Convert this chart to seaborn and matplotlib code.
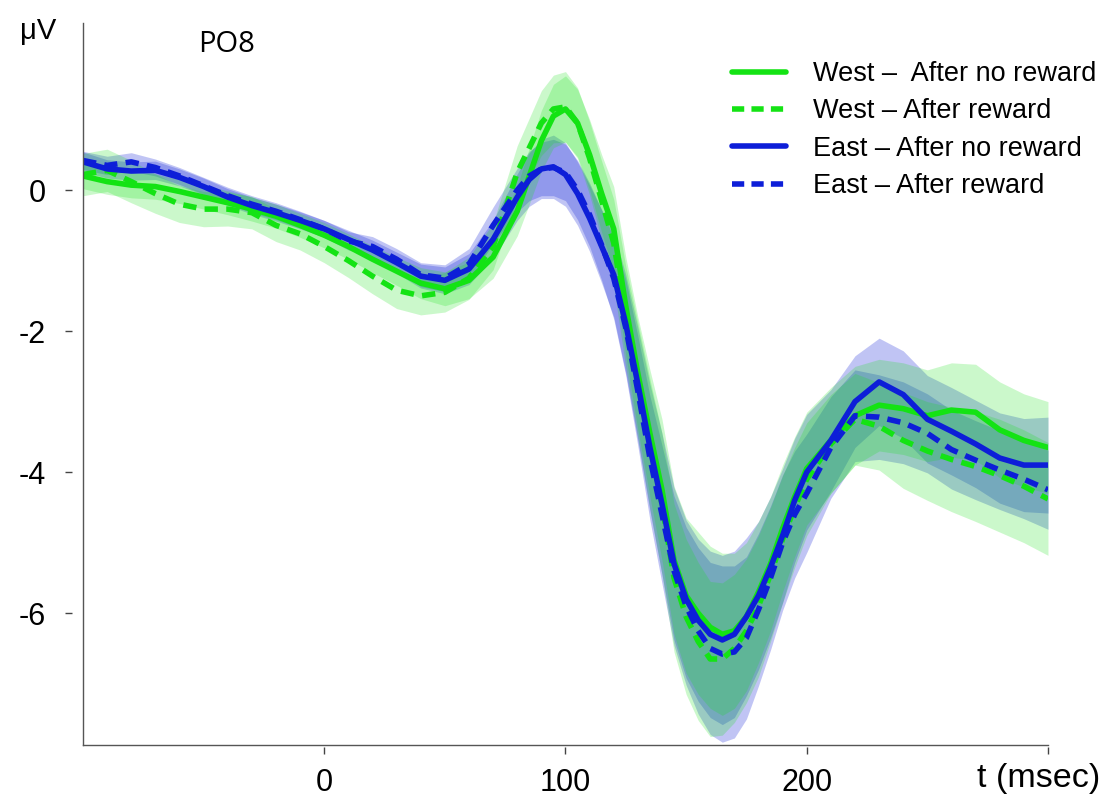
import numpy as np
import pandas as pd
import matplotlib.pyplot as plt
import seaborn as sns
from matplotlib.lines import Line2D

# time axis (ms): 10 ms steps, 5 ms steps through the P1/N1 complex
t_ms = [-100, -90, -80, -70, -60, -50, -40, -30, -20, -10,
        0, 10, 20, 30, 40, 50, 60, 70, 80,
        85, 90, 95, 100, 105, 110, 115, 120, 125, 130, 135, 140, 145, 150,
        155, 160, 165, 170, 175, 180, 185, 190, 195, 200,
        210, 220, 230, 240, 250, 260, 270, 280, 290, 300]

labels = ["West \u2013  After no reward", "West \u2013 After reward",
          "East \u2013 After no reward", "East \u2013 After reward"]

west_no = [0.20, 0.12, 0.07, 0.05, -0.02, -0.10, -0.18, -0.27, -0.37, -0.50,
           -0.64, -0.80, -0.98, -1.15, -1.32, -1.40, -1.28, -0.95, -0.30,
           0.20, 0.70, 1.05, 1.15, 0.95, 0.50, -0.05, -0.55, -1.65, -2.60, -3.45, -4.25, -5.25, -5.75,
           -6.00, -6.20, -6.30, -6.25, -6.05, -5.70, -5.30, -4.80, -4.35, -3.95,
           -3.55, -3.20, -3.05, -3.10, -3.20, -3.12, -3.15, -3.40, -3.55, -3.65]

west_rew = [0.22, 0.28, 0.12, -0.05, -0.20, -0.27, -0.27, -0.32, -0.50, -0.62,
            -0.80, -1.00, -1.22, -1.42, -1.50, -1.45, -1.25, -0.80, 0.25,
            0.60, 0.95, 1.15, 1.18, 0.95, 0.45, -0.15, -0.75, -1.80, -2.70, -3.60, -4.45, -5.50, -6.05,
            -6.40, -6.65, -6.65, -6.50, -6.25, -5.90, -5.45, -4.95, -4.50, -4.10,
            -3.60, -3.25, -3.35, -3.55, -3.70, -3.82, -3.92, -4.05, -4.20, -4.38]

east_no = [0.40, 0.30, 0.27, 0.28, 0.18, 0.05, -0.10, -0.22, -0.32, -0.43,
           -0.55, -0.70, -0.85, -1.03, -1.22, -1.28, -1.12, -0.70, -0.10,
           0.15, 0.30, 0.33, 0.22, -0.05, -0.40, -0.80, -1.20, -1.90, -2.75, -3.65, -4.45, -5.30, -5.80,
           -6.10, -6.30, -6.38, -6.30, -6.05, -5.75, -5.35, -4.90, -4.40, -4.00,
           -3.55, -3.00, -2.72, -2.90, -3.25, -3.42, -3.60, -3.80, -3.90, -3.90]

east_rew = [0.42, 0.35, 0.40, 0.32, 0.20, 0.06, -0.08, -0.20, -0.30, -0.42,
            -0.55, -0.72, -0.80, -0.98, -1.20, -1.25, -1.05, -0.50, 0.00,
            0.20, 0.30, 0.32, 0.25, 0.00, -0.35, -0.78, -1.25, -1.95, -2.85, -3.80, -4.60, -5.40, -5.90,
            -6.25, -6.50, -6.58, -6.55, -6.35, -5.95, -5.50, -5.00, -4.60, -4.30,
            -3.65, -3.20, -3.22, -3.30, -3.45, -3.68, -3.83, -3.97, -4.10, -4.25]

# standard error bands
sem_west_no = [0.18, 0.18, 0.18, 0.18, 0.17, 0.17, 0.17, 0.17, 0.17, 0.17,
               0.18, 0.18, 0.19, 0.20, 0.22, 0.24, 0.26, 0.30, 0.35,
               0.40, 0.43, 0.45, 0.47, 0.48, 0.50, 0.55, 0.60, 0.70, 0.80, 0.90, 1.00, 1.05, 1.10,
               1.15, 1.15, 1.15, 1.10, 1.05, 1.00, 0.95, 0.90, 0.85, 0.80,
               0.75, 0.70, 0.65, 0.65, 0.65, 0.67, 0.68, 0.68, 0.66, 0.65]

sem_west_rew = [0.30, 0.30, 0.30, 0.28, 0.26, 0.25, 0.24, 0.23, 0.23, 0.23,
                0.23, 0.24, 0.25, 0.26, 0.27, 0.28, 0.30, 0.33, 0.38,
                0.42, 0.46, 0.48, 0.50, 0.50, 0.52, 0.56, 0.62, 0.72, 0.82, 0.92, 1.00, 1.05, 1.10,
                1.12, 1.10, 1.08, 1.05, 1.02, 1.00, 0.95, 0.90, 0.85, 0.80,
                0.70, 0.65, 0.62, 0.68, 0.70, 0.74, 0.78, 0.80, 0.80, 0.80]

sem_east_no = [0.14, 0.13, 0.13, 0.13, 0.12, 0.12, 0.12, 0.12, 0.12, 0.12,
               0.12, 0.13, 0.14, 0.15, 0.17, 0.19, 0.22, 0.27, 0.33,
               0.38, 0.42, 0.45, 0.45, 0.45, 0.47, 0.52, 0.60, 0.70, 0.80, 0.90, 1.00, 1.08, 1.12,
               1.15, 1.18, 1.20, 1.18, 1.12, 1.05, 1.00, 0.95, 0.88, 0.82,
               0.72, 0.65, 0.62, 0.62, 0.62, 0.62, 0.62, 0.64, 0.66, 0.68]

sem_east_rew = [0.13, 0.13, 0.13, 0.12, 0.12, 0.12, 0.12, 0.12, 0.12, 0.12,
                0.12, 0.13, 0.14, 0.15, 0.17, 0.19, 0.22, 0.26, 0.31,
                0.35, 0.38, 0.40, 0.40, 0.42, 0.45, 0.50, 0.58, 0.68, 0.78, 0.88, 0.98, 1.06, 1.12,
                1.18, 1.22, 1.25, 1.22, 1.15, 1.08, 1.02, 0.96, 0.90, 0.84,
                0.72, 0.65, 0.60, 0.58, 0.56, 0.56, 0.56, 0.56, 0.56, 0.56]

GREEN = "#14e314"
BLUE = "#0d1ed8"

sns.set_style("white")
plt.rcParams["font.family"] = ["Liberation Sans", "DejaVu Sans"]
plt.rcParams["text.color"] = "black"
plt.rcParams["xtick.color"] = "black"
plt.rcParams["ytick.color"] = "black"

means = [west_no, west_rew, east_no, east_rew]
sems = [sem_west_no, sem_west_rew, sem_east_no, sem_east_rew]
colors = [GREEN, GREEN, BLUE, BLUE]
band_alpha = [0.22, 0.22, 0.26, 0.26]

df = pd.concat(
    [pd.DataFrame({"t": t_ms, "uv": m, "cond": lab}) for m, lab in zip(means, labels)],
    ignore_index=True,
)

fig = plt.figure(figsize=(11.05, 7.97), dpi=100)
ax = fig.add_axes([0.0751, 0.0652, 0.8733, 0.906])

# shaded error bands: blue first, green over it gives the teal overlap
t_arr = np.array(t_ms)
for i in [2, 3, 0, 1]:
    m, s = np.array(means[i]), np.array(sems[i])
    ax.fill_between(t_arr, m - s, m + s, color=colors[i], alpha=band_alpha[i], linewidth=0)

palette = dict(zip(labels, colors))
dashes = {labels[0]: "", labels[1]: (2.4, 1.5), labels[2]: "", labels[3]: (2.4, 1.5)}
sns.lineplot(data=df, x="t", y="uv", hue="cond", style="cond", hue_order=labels,
             style_order=labels, palette=palette, dashes=dashes, linewidth=4.0,
             errorbar=None, ax=ax)

ax.set_xlim(-100, 300)
ax.set_ylim(-7.87, 2.37)
ax.set_xlabel("")
ax.set_ylabel("")
ax.tick_params(left=False, bottom=False, labelleft=False, labelbottom=False)
for side in ["top", "right"]:
    ax.spines[side].set_visible(False)
for side in ["left", "bottom"]:
    ax.spines[side].set_color("#555555")
    ax.spines[side].set_linewidth(1.0)

# detached tick marks like the original figure
secy = ax.secondary_yaxis(-0.0114)
secy.set_yticks([0, -2, -4, -6], labels=["0", "-2", "-4", "-6"])
secy.spines["left"].set_visible(False)
secy.tick_params(length=5, width=1, color="#444444", pad=14, labelsize=22)

secx = ax.secondary_xaxis(-0.003)
secx.set_xticks([0, 100, 200, 300], labels=["0", "100", "200", ""])
secx.spines["bottom"].set_visible(False)
secx.tick_params(length=5, width=1, color="#444444", pad=10, labelsize=22)

# legend
handles = [Line2D([], [], color=c, linewidth=4.0,
                  linestyle="-" if i % 2 == 0 else (0, (2.2, 1.3)))
           for i, c in enumerate(colors)]
ax.legend(handles, labels, loc="upper left", bbox_to_anchor=(732 / 1105, 1 - 61 / 797),
          bbox_transform=fig.transFigure, frameon=False, fontsize=19.5,
          handlelength=2.0, handletextpad=1.0, labelspacing=0.42,
          borderpad=0, borderaxespad=0)

fig.text(38 / 1105, 1 - 31 / 797, "\u03bcV", ha="center", va="center", fontsize=21)
fig.text(227 / 1105, 1 - 45 / 797, "PO8", ha="center", va="center", fontsize=21,
         family=["Open Sans", "DejaVu Sans"])
fig.text(1100 / 1105, 1 - 778 / 797, "t (msec)", ha="right", va="center", fontsize=24.5)

fig.savefig("out.png", dpi=100)
